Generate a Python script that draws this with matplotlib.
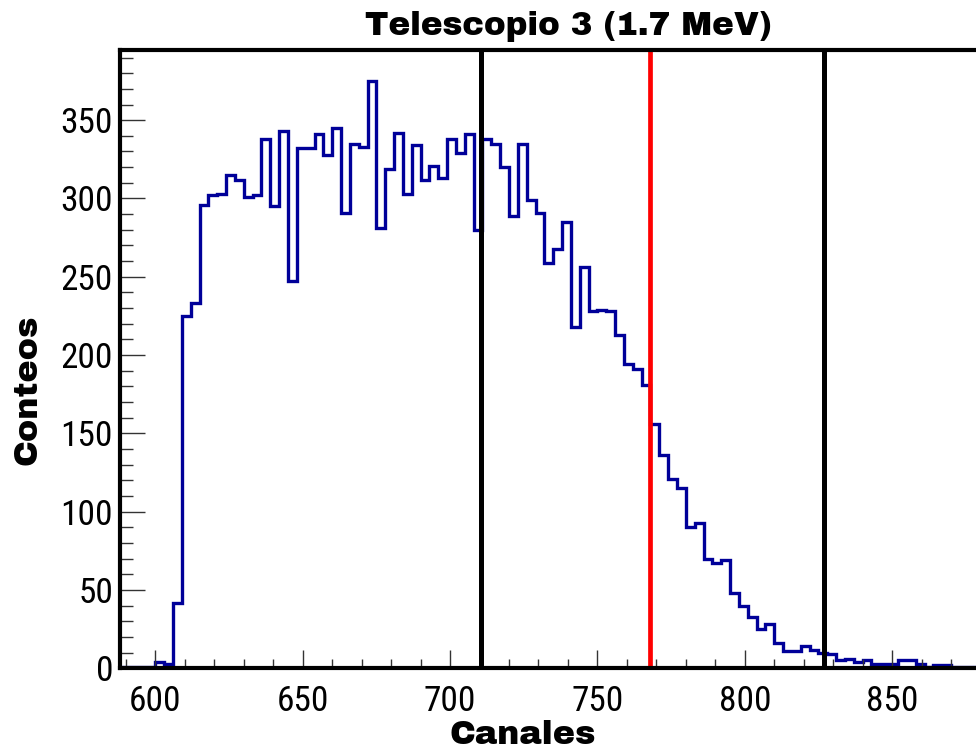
import numpy as np
import matplotlib
matplotlib.use("Agg")
import matplotlib.pyplot as plt
from matplotlib.ticker import MultipleLocator
from matplotlib import font_manager

# channel spectrum, 3-channel bins starting at channel 588
bin_start = 588
bin_width = 3
counts = [
    1, 1, 1, 1, 4, 3, 42, 225, 233, 296,
    302, 303, 315, 312, 301, 302, 338, 295, 343, 247,
    332, 332, 341, 328, 345, 291, 335, 333, 375, 281,
    319, 342, 303, 334, 312, 321, 313, 338, 329, 341,
    280, 338, 335, 320, 289, 335, 299, 291, 259, 268,
    285, 218, 256, 228, 229, 228, 213, 194, 191, 181,
    156, 136, 121, 115, 90, 93, 70, 67, 69, 48,
    40, 33, 25, 28, 16, 11, 11, 14, 12, 10,
    9, 5, 6, 4, 5, 3, 3, 3, 5, 5,
    3, 1, 2, 2, 1, 1, 1, 1, 0, 0, 0,
]
window_lines = [710.5, 826.8]   # integration window
centroid_line = 767.7

title = "Telescopio 3 (1.7 MeV)"
xlabel = "Canales"
ylabel = "Conteos"

# narrow face for numbers, heavy face for the labels
names = {f.name for f in font_manager.fontManager.ttflist}
def pick(options, default="DejaVu Sans"):
    return next((n for n in options if n in names), default)

tick_family = pick(["Roboto Condensed", "Liberation Sans Narrow", "Archivo Narrow", "Liberation Sans"])
label_family = pick(["Archivo Black", "Roboto", "Liberation Sans"])
label_weight = "black" if label_family != "Liberation Sans" else "bold"
plt.rcParams["font.family"] = [tick_family, "DejaVu Sans"]

W, H = 976, 747
fig = plt.figure(figsize=(W / 100, H / 100), dpi=100)
x0, x1 = 588, 892
y0, y1 = 0, 394.8
ax_left, ax_bottom, ax_top = 120, 78.7, 50
px_per_ch = 2.947
ax_w = (x1 - x0) * px_per_ch
ax = fig.add_axes([ax_left / W, ax_bottom / H, ax_w / W, (H - ax_bottom - ax_top) / H])

edges = bin_start + bin_width * np.arange(len(counts) + 1)
ax.stairs(counts, edges, color="#000099", linewidth=2.4, baseline=0)

for xv in window_lines:
    ax.axvline(xv, color="black", linewidth=3.6)
ax.axvline(centroid_line, color="#ff0000", linewidth=3.4)

ax.set_xlim(x0, x1)
ax.set_ylim(y0, y1)

ax.xaxis.set_major_locator(MultipleLocator(50))
ax.xaxis.set_minor_locator(MultipleLocator(10))
ax.yaxis.set_major_locator(MultipleLocator(50))
ax.yaxis.set_minor_locator(MultipleLocator(10))
ax.tick_params(which="both", direction="in", width=1.0, color="#333333")
ax.xaxis.set_tick_params(which="major", length=13, pad=12, labelsize=25.5)
ax.xaxis.set_tick_params(which="minor", length=6.5)
ax.yaxis.set_tick_params(which="major", length=18, pad=5, labelsize=25.5)
ax.yaxis.set_tick_params(which="minor", length=9)

for side in ("left", "bottom", "top"):
    ax.spines[side].set_linewidth(3.0)
ax.spines["right"].set_visible(False)

label_font = dict(family=[label_family, "DejaVu Sans"], fontweight=label_weight)
fig.text(568 / W, 1 - 35 / H, title, ha="center", va="baseline",
         fontsize=23.5, **label_font)
fig.text(523 / W, 3 / H, xlabel, ha="center", va="baseline",
         fontsize=24, **label_font)
fig.text(36 / W, 1 - 390 / H, ylabel, ha="center", va="baseline",
         rotation=90, rotation_mode="anchor", fontsize=24, **label_font)

fig.savefig("out.png", dpi=100)
